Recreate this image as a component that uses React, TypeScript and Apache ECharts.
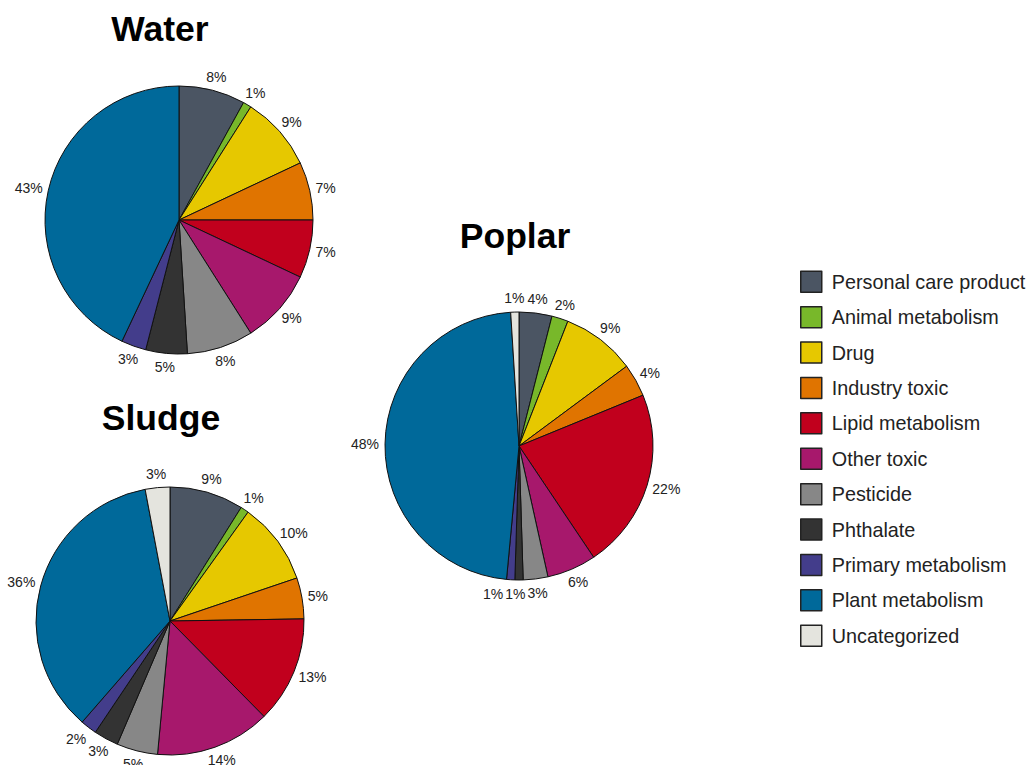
import React, { useEffect, useRef } from "react";
import * as echarts from "echarts";

const categories = [
  "Personal care product",
  "Animal metabolism",
  "Drug",
  "Industry toxic",
  "Lipid metabolism",
  "Other toxic",
  "Pesticide",
  "Phthalate",
  "Primary metabolism",
  "Plant metabolism",
  "Uncategorized",
];

const colors = [
  "#4b5563",
  "#78b82a",
  "#e6c800",
  "#e07400",
  "#c1001d",
  "#a7186c",
  "#878787",
  "#333333",
  "#433d8b",
  "#00699a",
  "#e4e4de",
];

const waterValues = [8, 1, 9, 7, 7, 9, 8, 5, 3, 43, 0];
const sludgeValues = [9, 1, 10, 5, 13, 14, 5, 3, 2, 36, 3];
const poplarValues = [4, 2, 9, 4, 22, 6, 3, 1, 1, 48, 1];

const pieTitles = ["Water", "Sludge", "Poplar"];

const RADIUS = 134;
const GAP = 6;
const LABEL_SIZE = 14;
const FONT = "Arial, 'Liberation Sans', Helvetica, sans-serif";

function measure(text: string): number {
  const c = document.createElement("canvas").getContext("2d");
  if (!c) return text.length * 8;
  c.font = `${LABEL_SIZE}px ${FONT}`;
  return c.measureText(text).width;
}

export default function App() {
  const ref = useRef<HTMLDivElement>(null);
  useEffect(() => {
    document.body.style.margin = "0";
    if (!ref.current) return;
    const chart = echarts.init(ref.current, null, { renderer: "svg" });

    const pies = [
      { title: pieTitles[0], values: waterValues, cx: 179, cy: 220 },
      { title: pieTitles[1], values: sludgeValues, cx: 170, cy: 621 },
      { title: pieTitles[2], values: poplarValues, cx: 519, cy: 446 },
    ];

    const series = pies.map((p) => {
      const data = categories
        .map((name, i) => ({
          name,
          value: p.values[i],
          itemStyle: { color: colors[i] },
        }))
        .filter((d) => d.value > 0);
      const vals = data.map((d) => d.value);
      const total = vals.reduce((a, b) => a + b, 0);
      const h = LABEL_SIZE + 2;
      // ideal label centres, derived from each slice's mid angle
      let before = 0;
      const pos = vals.map((v) => {
        const a = ((before + v / 2) / total) * Math.PI * 2;
        before += v;
        const dx = Math.sin(a);
        const dy = -Math.cos(a);
        const w = measure(`${v}%`);
        const R = RADIUS + GAP;
        return {
          x: p.cx + dx * R + (dx * w) / 2,
          y: p.cy + dy * R + (dy * h) / 2,
          w,
          dy,
        };
      });
      // push crowded labels in the lower half apart, right to left
      const lower = pos
        .map((q, i) => ({ q, i }))
        .filter((o) => o.q.dy > 0.5)
        .sort((a, b) => b.q.x - a.q.x);
      for (let k = 1; k < lower.length; k++) {
        const prev = lower[k - 1].q;
        const cur = lower[k].q;
        const vOverlap = Math.abs(prev.y - cur.y) < h;
        const limit = prev.x - prev.w / 2 - 2;
        if (vOverlap && cur.x + cur.w / 2 > limit) {
          cur.x = limit - cur.w / 2;
        }
      }
      return {
        type: "pie",
        name: p.title,
        center: [p.cx, p.cy],
        radius: RADIUS,
        startAngle: 90,
        clockwise: true,
        avoidLabelOverlap: false,
        data,
        label: {
          show: true,
          position: "outside",
          formatter: "{c}%",
          fontSize: LABEL_SIZE,
          fontFamily: FONT,
          color: "#222",
        },
        labelLine: { show: false, length: 6, length2: 0 },
        labelLayout: (params: any) => {
          const q = pos[params.dataIndex];
          return {
            x: q.x,
            y: q.y,
            align: "center",
            verticalAlign: "middle",
          };
        },
        itemStyle: { borderColor: "#111", borderWidth: 1 },
        emphasis: { disabled: true },
        silent: true,
      };
    });

    chart.setOption({
      animation: false,
      backgroundColor: "#ffffff",
      title: [
        { text: "Water", left: 160, top: 10.5 },
        { text: "Sludge", left: 161, top: 400 },
        { text: "Poplar", left: 515, top: 218 },
      ].map((t) => ({
        ...t,
        textAlign: "center",
        padding: 0,
        textStyle: {
          fontSize: 35.5,
          fontWeight: "bold",
          fontFamily: FONT,
          color: "#000",
        },
      })),
      legend: {
        orient: "vertical",
        left: 795,
        top: 265.5,
        itemWidth: 21,
        itemHeight: 21,
        itemGap: 12.9,
        selectedMode: false,
        icon: "rect",
        data: categories,
        itemStyle: { borderColor: "#222", borderWidth: 1.5 },
        textStyle: {
          fontSize: 19.8,
          fontFamily: FONT,
          color: "#222",
          padding: [0, 0, 0, 5],
        },
      },
      series,
    });
    return () => chart.dispose();
  }, []);
  return <div ref={ref} style={{ width: 1029, height: 765 }} />;
}
